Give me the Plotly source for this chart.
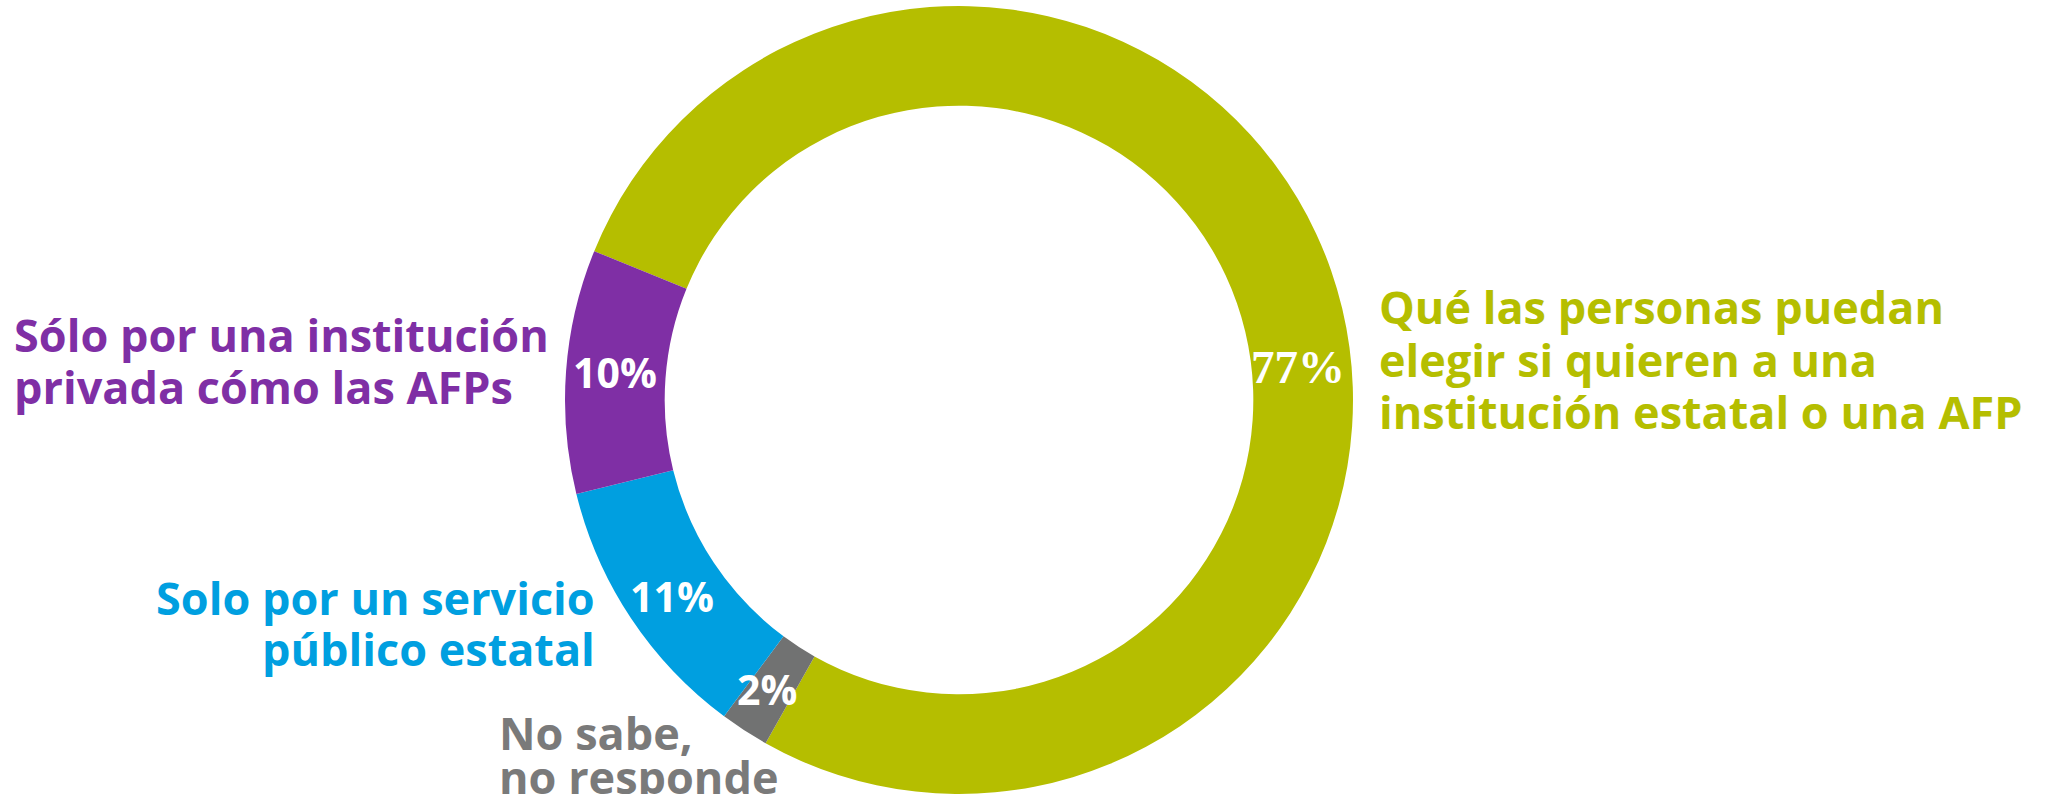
import plotly.graph_objects as go

# ---- data ----
categories = [
    "Qué las personas puedan elegir si quieren a una institución estatal o una AFP",
    "No sabe, no responde",
    "Solo por un servicio público estatal",
    "Sólo por una institución privada cómo las AFPs",
]
values = [77, 2, 11, 10]
label_lines = [
    ["Qué las personas puedan", "elegir si quieren a una", "institución estatal o una AFP"],
    ["No sabe,", "no responde"],
    ["Solo por un servicio", "público estatal"],
    ["Sólo por una institución", "privada cómo las AFPs"],
]
colors = ["#B5BE00", "#717272", "#009FE0", "#7F2FA5"]
text_colors = ["#B5BE00", "#7A7A7A", "#009FE0", "#7F2FA5"]

# ---- layout geometry (pixels) ----
W, H = 2049, 794
MT, MB = 6, 0
CX, R = 959, 394


def px(x):
    return x / W


def py(y):
    return (H - y) / (H - MT - MB)


fig = go.Figure(
    go.Pie(
        labels=categories,
        values=values,
        sort=False,
        direction="clockwise",
        rotation=-67.8,
        hole=0.747,
        marker=dict(colors=colors, line=dict(width=0)),
        textinfo="none",
        hoverinfo="label+percent",
        domain=dict(x=[px(CX - R), px(CX + R)], y=[0, 1]),
        showlegend=False,
    )
)

LABEL_FONT = dict(family="Open Sans", size=45, weight="bold")
annotations = []

# category label placement: (x, anchor, first line center y, line step)
label_pos = [
    (1377, "left", 307, 52),
    (497, "left", 732, 44.5),
    (597, "right", 597.5, 51),
    (12, "left", 334, 52),
]
for lines, col, (x, anc, y0, step) in zip(label_lines, text_colors, label_pos):
    for i, line in enumerate(lines):
        annotations.append(
            dict(
                text=line, xref="paper", yref="paper",
                x=px(x), y=py(y0 + i * step),
                xanchor=anc, yanchor="middle", showarrow=False,
                font=dict(**LABEL_FONT, color=col),
            )
        )

# percentage labels
pct_pos = [(1298, 367), (767, 689), (672, 596), (615, 372)]
for k, (v, (x, y)) in enumerate(zip(values, pct_pos)):
    if k == 0:
        f = dict(family="Liberation Serif", size=47, weight="bold", color="white")
    else:
        f = dict(family="Open Sans", size=41, weight="bold", color="white")
    annotations.append(
        dict(
            text=f"{v}%", xref="paper", yref="paper",
            x=px(x), y=py(y), xanchor="center", yanchor="middle",
            showarrow=False, font=f,
        )
    )

fig.update_layout(
    width=W, height=H,
    margin=dict(l=0, r=0, t=MT, b=MB, pad=0),
    paper_bgcolor="white", plot_bgcolor="white",
    annotations=annotations,
)

fig.write_html(
    "out.html",
    config={"displayModeBar": False},
    post_script="document.body.style.margin='0';",
)
